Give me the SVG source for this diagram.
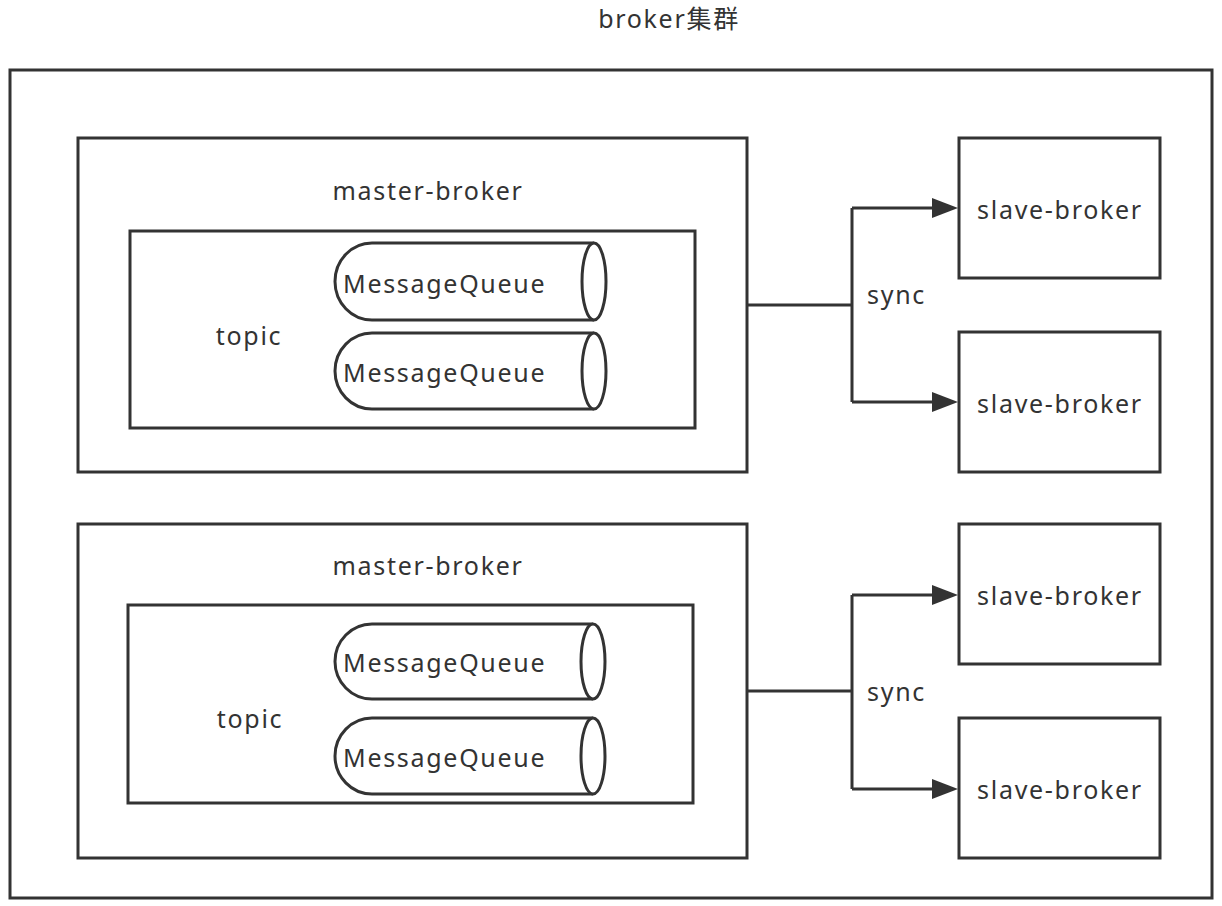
<svg xmlns="http://www.w3.org/2000/svg" width="1222" height="906" viewBox="0 0 1222 906">
<defs>
<style>
.b{fill:#fff;stroke:#333;stroke-width:3}
.t{font-family:"Noto Sans","Noto Sans CJK SC",sans-serif;font-size:25px;fill:#333;letter-spacing:1.7px}
.c{fill:none;stroke:#333;stroke-width:3}
</style>
</defs>
<rect width="1222" height="906" fill="#fff"/>
<text class="t" x="669" y="28" text-anchor="middle">broker集群</text>
<g id="cluster"><rect class="b" x="10" y="70" width="1202" height="828"/></g>

<g id="master1">
<rect class="b" x="78" y="138" width="669" height="334"/>
<text class="t" x="428" y="200" text-anchor="middle">master-broker</text>
</g>
<g id="topic1">
<rect class="b" x="130" y="231" width="565" height="197"/>
<text class="t" x="249" y="345" text-anchor="middle">topic</text>
</g>
<g id="mq1">
<path class="b" d="M594,243 L372,243 A37,38.5 0 0 0 372,320 L594,320"/>
<ellipse class="b" cx="594" cy="281.5" rx="12" ry="38.5"/>
<text class="t" x="343" y="293">MessageQueue</text>
</g>
<g id="mq2">
<path class="b" d="M594,333 L372,333 A37,38 0 0 0 372,409 L594,409"/>
<ellipse class="b" cx="594" cy="371" rx="12" ry="38"/>
<text class="t" x="343" y="382">MessageQueue</text>
</g>

<g id="master2">
<rect class="b" x="78" y="524" width="669" height="334"/>
<text class="t" x="428" y="575" text-anchor="middle">master-broker</text>
</g>
<g id="topic2">
<rect class="b" x="128" y="605" width="565" height="198"/>
<text class="t" x="250" y="728" text-anchor="middle">topic</text>
</g>
<g id="mq3">
<path class="b" d="M593,624 L372,624 A37,37.5 0 0 0 372,699 L593,699"/>
<ellipse class="b" cx="593" cy="661.5" rx="12" ry="37.5"/>
<text class="t" x="343" y="672">MessageQueue</text>
</g>
<g id="mq4">
<path class="b" d="M593,718 L372,718 A37,38 0 0 0 372,794 L593,794"/>
<ellipse class="b" cx="593" cy="756" rx="12" ry="38"/>
<text class="t" x="343" y="767">MessageQueue</text>
</g>

<g id="slave1"><rect class="b" x="959" y="138" width="201" height="140"/><text class="t" x="1060" y="219" text-anchor="middle">slave-broker</text></g>
<g id="slave2"><rect class="b" x="959" y="332" width="201" height="140"/><text class="t" x="1060" y="413" text-anchor="middle">slave-broker</text></g>
<g id="slave3"><rect class="b" x="959" y="524" width="201" height="140"/><text class="t" x="1060" y="605" text-anchor="middle">slave-broker</text></g>
<g id="slave4"><rect class="b" x="959" y="718" width="201" height="140"/><text class="t" x="1060" y="799" text-anchor="middle">slave-broker</text></g>

<g id="connectors">
<path class="c" d="M747,305 H852 M852,208 V402 M852,208 H935 M852,402 H935"/>
<polygon points="932,198 958,208 932,218" fill="#333"/>
<polygon points="932,392 958,402 932,412" fill="#333"/>
<text class="t" x="867" y="304">sync</text>
<path class="c" d="M747,691 H852 M852,595 V789 M852,595 H935 M852,789 H935"/>
<polygon points="932,585 958,595 932,605" fill="#333"/>
<polygon points="932,779 958,789 932,799" fill="#333"/>
<text class="t" x="867" y="701">sync</text>
</g>
</svg>
